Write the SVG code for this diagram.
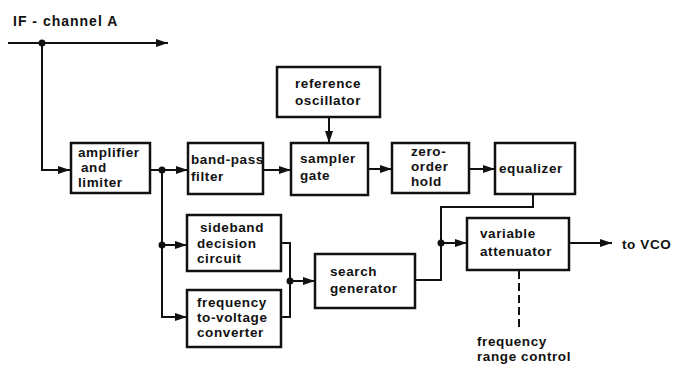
<svg xmlns="http://www.w3.org/2000/svg" width="681" height="368" viewBox="0 0 681 368">
<style>
.box{fill:#fff;stroke:#111;stroke-width:2.5}
.t{font-family:"Liberation Sans",Arial,sans-serif;font-weight:bold;font-size:13.5px;letter-spacing:0.6px;fill:#111}
.c{fill:none;stroke:#111;stroke-width:2}
.dot{fill:#111}
</style>
<defs>
<marker id="ah" markerUnits="userSpaceOnUse" markerWidth="12" markerHeight="8" refX="12" refY="4" orient="auto">
<path d="M0,0 L12,4 L0,8 z" fill="#111"/>
</marker>
</defs>
<rect width="681" height="368" fill="#fff"/>
<text class="t" x="13" y="26" style="letter-spacing:1px;font-size:14px">IF - channel A</text>

<g id="connectors">
<path class="c" d="M8 43 H168" marker-end="url(#ah)"/>
<path class="c" d="M42 43 V170 H70" marker-end="url(#ah)"/>
<path class="c" d="M150 170 H188" marker-end="url(#ah)"/>
<path class="c" d="M162 170 V317 H187" marker-end="url(#ah)"/>
<path class="c" d="M162 245 H187" marker-end="url(#ah)"/>
<path class="c" d="M263 170 H291" marker-end="url(#ah)"/>
<path class="c" d="M329 117 V143" marker-end="url(#ah)"/>
<path class="c" d="M368 169 H392" marker-end="url(#ah)"/>
<path class="c" d="M469 169 H495" marker-end="url(#ah)"/>
<path class="c" d="M533 194 V207 H441 V280 H415"/>
<path class="c" d="M441 243 H467" marker-end="url(#ah)"/>
<path class="c" d="M281 243 H290 V317 H281"/>
<path class="c" d="M290 281 H315" marker-end="url(#ah)"/>
<path class="c" d="M569 243 H612" marker-end="url(#ah)"/>
<path class="c" d="M519 271 V328" stroke-dasharray="8,4"/>
<circle class="dot" cx="42" cy="43" r="3.5"/>
<circle class="dot" cx="162" cy="170" r="3.5"/>
<circle class="dot" cx="162" cy="245" r="3.5"/>
<circle class="dot" cx="290" cy="281" r="3.5"/>
<circle class="dot" cx="441" cy="243" r="3.5"/>
</g>

<g id="amplifier">
<rect class="box" x="71" y="143" width="79" height="50"/>
<text class="t" x="78" y="157">amplifier</text>
<text class="t" x="81" y="172">and</text>
<text class="t" x="78" y="187">limiter</text>
</g>
<g id="bandpass">
<rect class="box" x="188" y="143" width="75" height="51"/>
<text class="t" x="191" y="164">band-pass</text>
<text class="t" x="191" y="181">filter</text>
</g>
<g id="refosc">
<rect class="box" x="277" y="67" width="103" height="50"/>
<text class="t" x="295" y="88">reference</text>
<text class="t" x="295" y="105">oscillator</text>
</g>
<g id="sampler">
<rect class="box" x="291" y="143" width="77" height="52"/>
<text class="t" x="300" y="163">sampler</text>
<text class="t" x="300" y="180">gate</text>
</g>
<g id="zoh">
<rect class="box" x="392" y="143" width="77" height="50"/>
<text class="t" x="411" y="156">zero-</text>
<text class="t" x="411" y="171">order</text>
<text class="t" x="411" y="186">hold</text>
</g>
<g id="equalizer">
<rect class="box" x="495" y="143" width="80" height="51"/>
<text class="t" x="499" y="173">equalizer</text>
</g>
<g id="sideband">
<rect class="box" x="187" y="215" width="94" height="56"/>
<text class="t" x="200" y="232">sideband</text>
<text class="t" x="197" y="248">decision</text>
<text class="t" x="197" y="263">circuit</text>
</g>
<g id="f2v">
<rect class="box" x="187" y="290" width="94" height="57"/>
<text class="t" x="197" y="307">frequency</text>
<text class="t" x="197" y="322">to-voltage</text>
<text class="t" x="197" y="337">converter</text>
</g>
<g id="search">
<rect class="box" x="315" y="254" width="100" height="54"/>
<text class="t" x="330" y="276">search</text>
<text class="t" x="330" y="293">generator</text>
</g>
<g id="attenuator">
<rect class="box" x="467" y="218" width="102" height="52"/>
<text class="t" x="480" y="238">variable</text>
<text class="t" x="480" y="256">attenuator</text>
</g>
<text class="t" x="622" y="249">to VCO</text>
<text class="t" x="477" y="346">frequency</text>
<text class="t" x="477" y="361">range control</text>
</svg>
